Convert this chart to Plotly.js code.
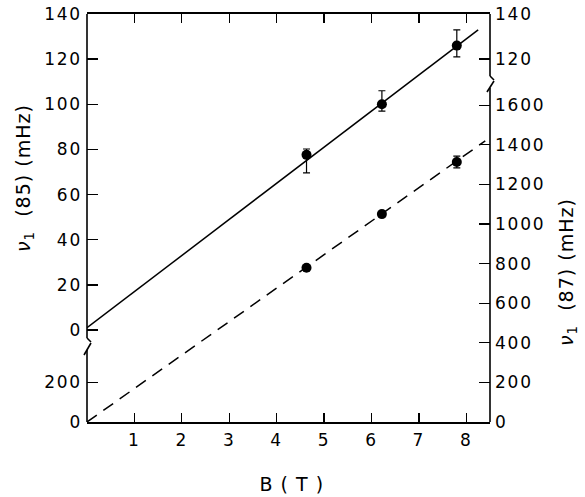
<!DOCTYPE html>
<html>
<head>
<meta charset="utf-8">
<script src="https://cdn.plot.ly/plotly-3.0.1.min.js"></script>
<style>
html,body{margin:0;padding:0;background:#fff;}
#chart{width:585px;height:497px;}
#chart .xtick text, #chart .ytick text, #chart .y2tick text, #chart .y3tick text, #chart .y4tick text { letter-spacing: 1.8px; }
#chart .annotation-text { letter-spacing: 1px; }
</style>
</head>
<body>
<div id="chart"></div>
<script>
// ---- data ----
const B = [4.63, 6.22, 7.80];                 // magnetic field (T)
const nu85 = [77.6, 100, 126];                // nu1(85) in mHz
const nu85ErrPlus = [2.6, 6, 7];
const nu85ErrMinus = [8, 3, 5];
const nu87 = [779, 1050, 1313];               // nu1(87) in mHz
const nu87Err = [0, 0, 30];
const fitB85 = [0, 8.25];                     // solid fitted line
const fit85 = [1, 133];
const fitB87 = [0, 8.4];                      // dashed fitted line
const fit87 = [0, 1420];
const xTicks = [1, 2, 3, 4, 5, 6, 7, 8];
const y85Ticks = [0, 20, 40, 60, 80, 100, 120, 140];
const y85UpperRightTicks = [120, 140];
const y87Ticks = [0, 200, 400, 600, 800, 1000, 1200, 1400, 1600];
const y87LowerLeftTicks = [0, 200];

const FONT = {family: 'DejaVu Sans, sans-serif', size: 17, color: '#000'};
const TFONT = {family: 'DejaVu Sans, sans-serif', size: 19, color: '#000'};
const range85 = [-40.76, 140];
const range87 = [0, 2060.6];

const common = {
  ticks: 'inside', ticklen: 11, tickwidth: 1.3, tickcolor: '#000',
  showgrid: false, zeroline: false, showline: false,
  tickfont: FONT, tickmode: 'array', ticklabelstandoff: 4, fixedrange: true
};

const traces = [
  {x: fitB85, y: fit85, mode: 'lines', line: {color: '#000', width: 1.5}, yaxis: 'y', hoverinfo: 'skip'},
  {x: fitB87, y: fit87, mode: 'lines', line: {color: '#000', width: 1.5, dash: '12px,8px'}, yaxis: 'y2', hoverinfo: 'skip'},
  {x: B, y: nu85, mode: 'markers', marker: {color: '#000', size: 10}, yaxis: 'y',
   error_y: {type: 'data', symmetric: false, array: nu85ErrPlus, arrayminus: nu85ErrMinus, color: '#000', thickness: 1.2, width: 3.5}},
  {x: B, y: nu87, mode: 'markers', marker: {color: '#000', size: 10}, yaxis: 'y2',
   error_y: {type: 'data', array: nu87Err, color: '#000', thickness: 1.2, width: 3.5}}
];

const L = 87, R = 490, T = 14, Bt = 422;
const ln = {color: '#000', width: 1.6};
function px2paperX(p){ return (p - L) / (R - L); }
function px2paperY(p){ return (Bt - p) / (Bt - T); }
const segs = [
  [[87,14],[87,338],[91,342]],   // left upper piece + hook
  [[91,343],[84,355]],           // left slash
  [[87,350],[87,422]],           // left lower piece
  [[490,14],[490,76],[494,80]],  // right upper piece + hook
  [[494,81],[487,92]],           // right slash
  [[490,88],[490,422]]           // right lower piece
];
const shapes = [];
segs.forEach(s => {
  for (let i = 0; i < s.length - 1; i++) {
    shapes.push({type: 'line', xref: 'paper', yref: 'paper',
      x0: px2paperX(s[i][0]), y0: px2paperY(s[i][1]),
      x1: px2paperX(s[i+1][0]), y1: px2paperY(s[i+1][1]), line: ln});
  }
});

const layout = {
  width: 585, height: 497,
  margin: {l: L, r: 585 - R, t: T, b: 497 - Bt},
  paper_bgcolor: '#fff', plot_bgcolor: '#fff',
  showlegend: false,
  xaxis: Object.assign({}, common, {range: [0, 8.5], tickvals: xTicks, ticklen: 9,
    showline: true, linecolor: '#000', linewidth: 1.6, mirror: 'ticks', ticklabelstandoff: 2}),
  yaxis: Object.assign({}, common, {range: range85, tickvals: y85Ticks, side: 'left'}),
  yaxis2: Object.assign({}, common, {range: range87, tickvals: y87Ticks, side: 'right', overlaying: 'y'}),
  yaxis3: Object.assign({}, common, {range: range87, tickvals: y87LowerLeftTicks, side: 'left', overlaying: 'y'}),
  yaxis4: Object.assign({}, common, {range: range85, tickvals: y85UpperRightTicks, side: 'right', overlaying: 'y'}),
  shapes: shapes,
  annotations: [
    {xref: 'paper', yref: 'paper', x: px2paperX(24), y: px2paperY(178), text: '<i>ν</i><sub>1</sub>  (85) (mHz)',
     showarrow: false, textangle: -90, font: TFONT, xanchor: 'center', yanchor: 'middle'},
    {xref: 'paper', yref: 'paper', x: px2paperX(567), y: px2paperY(272), text: '<i>ν</i><sub>1</sub>  (87) (mHz)',
     showarrow: false, textangle: -90, font: TFONT, xanchor: 'center', yanchor: 'middle'},
    {xref: 'paper', yref: 'paper', x: px2paperX(292), y: px2paperY(484), text: 'B ( T )',
     showarrow: false, font: TFONT, xanchor: 'center', yanchor: 'middle'}
  ]
};

// invisible anchor traces so the overlaying axes are drawn
traces.push({x: [0], y: [0], yaxis: 'y3', mode: 'markers', marker: {opacity: 0}, hoverinfo: 'skip'});
traces.push({x: [0], y: [0], yaxis: 'y4', mode: 'markers', marker: {opacity: 0}, hoverinfo: 'skip'});

Plotly.newPlot('chart', traces, layout, {displayModeBar: false, staticPlot: true});
</script>
</body>
</html>
